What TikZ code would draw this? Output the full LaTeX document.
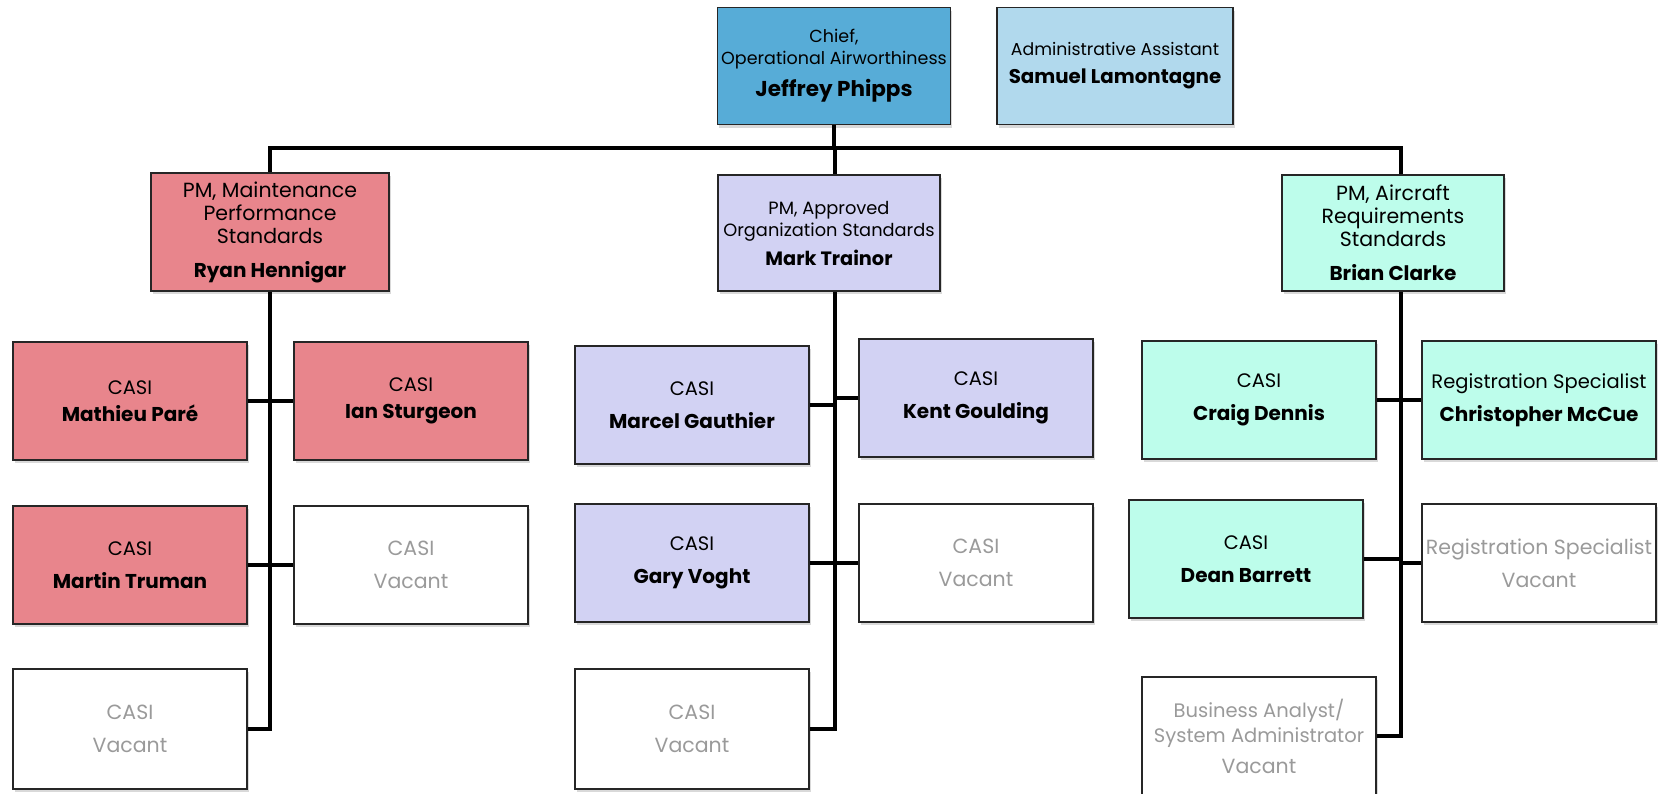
\documentclass[tikz,border=0pt]{standalone}
\usepackage{fontspec}
\setmainfont{Poppins}
\usetikzlibrary{shadows}
\definecolor{chiefblue}{HTML}{57ACD7}
\definecolor{adminblue}{HTML}{B1D9ED}
\definecolor{maintred}{HTML}{E8858C}
\definecolor{orglilac}{HTML}{D2D2F3}
\definecolor{acmint}{HTML}{BDFDEB}
\definecolor{vacgrey}{HTML}{9A9A9A}
\newcommand{\rl}{\fontsize{19.5}{23}\selectfont}
\newcommand{\nm}{\fontsize{20}{23}\selectfont\bfseries}
\tikzstyle{post}=[rectangle,draw=black!85,line width=1.8pt,minimum width=234pt,minimum height=118pt,inner sep=0pt,align=center,font=\rl,drop shadow={opacity=0.3,shadow xshift=1.5pt,shadow yshift=-3pt}]
\tikzstyle{maint}=[post,fill=maintred]
\tikzstyle{orgn}=[post,fill=orglilac]
\tikzstyle{acft}=[post,fill=acmint]
\tikzstyle{vacant}=[post,fill=white,text=vacgrey,font=\fontsize{20.5}{23}\selectfont]
\tikzstyle{link}=[draw,line width=4.5pt]

\begin{document}
\begin{tikzpicture}[x=1pt,y=-1pt]
\useasboundingbox (0,0) rectangle (1660,793);

%layer 0
\node[post,fill=chiefblue,minimum width=233pt,minimum height=117pt,font=\fontsize{17.5}{22}\selectfont] (chief) at (834,66) {Chief,\\Operational Airworthiness\\[10pt]\bfseries\fontsize{21.5}{22}\selectfont Jeffrey Phipps};
\node[post,fill=adminblue,minimum width=236pt,minimum height=117pt,font=\fontsize{17.3}{22}\selectfont] (admin) at (1115,66) {Administrative Assistant\\[6pt]\bfseries\fontsize{19.8}{22}\selectfont Samuel Lamontagne};

%layer 1
\node[maint,minimum width=238pt,font=\fontsize{20.5}{23}\selectfont] (ryan) at (270,232) {PM, Maintenance\\Performance\\Standards\\[11pt]\nm Ryan Hennigar};
\node[orgn,minimum width=222pt,minimum height=116pt,font=\fontsize{17.8}{22}\selectfont] (mark) at (829,233) {PM, Approved\\Organization Standards\\[7pt]\bfseries\fontsize{19.3}{22}\selectfont Mark Trainor};
\node[acft,minimum width=222pt,minimum height=116pt,font=\fontsize{20.5}{23}\selectfont] (brian) at (1393,233) {PM, Aircraft\\Requirements\\Standards\\[11pt]\nm Brian Clarke};

%layer 2 left
\def\gap{10pt}
\foreach \pos/\name/\sty/\txt in {{(130,401)/mathieu/maint/{CASI\\[4pt]\nm Mathieu Paré}}, {(411,401)/ian/maint/{CASI\\[4pt]\nm Ian Sturgeon}}, {(130,565)/martin/maint/{CASI\\[\gap]\nm Martin Truman}}, {(411,565)/vacL/vacant/{CASI\\[\gap]Vacant}}}
    \node[\sty] (\name) at \pos {\txt};
\node[vacant,minimum height=120pt] (vacBL) at (130,729) {CASI\\[\gap]Vacant};

%layer 2 middle
\foreach \pos/\name/\sty/\txt in {{(692,405)/marcel/orgn/{CASI\\[\gap]\nm Marcel Gauthier}}, {(976,398)/kent/orgn/{CASI\\[\gap]\nm Kent Goulding}}, {(692,563)/gary/orgn/{CASI\\[\gap]\nm Gary Voght}}, {(976,563)/vacM/vacant/{CASI\\[\gap]Vacant}}}
    \node[\sty] (\name) at \pos {\txt};
\node[vacant,minimum height=120pt] (vacBM) at (692,729) {CASI\\[\gap]Vacant};

%layer 2 right
\foreach \pos/\name/\sty/\txt in {{(1259,400)/craig/acft/{CASI\\[\gap]\nm Craig Dennis}}, {(1539,400)/chris/acft/{Registration Specialist\\[\gap]\nm Christopher McCue}}, {(1246,559)/dean/acft/{CASI\\[\gap]\nm Dean Barrett}}, {(1539,563)/regvac/vacant/{Registration Specialist\\[\gap]Vacant}}}
    \node[\sty] (\name) at \pos {\txt};
\node[vacant,font=\fontsize{19.5}{25}\selectfont] (busi) at (1259,736) {Business Analyst/\\System Administrator\\[6pt]\fontsize{20.5}{25}\selectfont Vacant};

% Connect the posts
\coordinate (barL) at (270,148);
\coordinate (barM) at (835,148);
\coordinate (barR) at (1401,148);
\draw[link] (ryan.north) -- (barL) -- (barR) -- (barR |- brian.north);
\draw[link] (chief.south) -- (chief.south |- barM);
\draw[link] (barM) -- (barM |- mark.north);

%left
\draw[link] (ryan.south) |- (vacBL.east);
\foreach \source/\dest in {mathieu/ian, martin/vacL}
    \draw[link] (\source.east) -- (\dest.west);

%middle
\draw[link] (barM |- mark.south) |- (vacBM.east);
\draw[link] (marcel.east) -- (marcel.east -| barM);
\draw[link] (kent.west) -- (kent.west -| barM);
\draw[link] (gary.east) -- (vacM.west);

%right
\draw[link] (barR |- brian.south) |- (busi.east);
\draw[link] (craig.east) -- (chris.west);
\draw[link] (dean.east) -- (dean.east -| barR);
\draw[link] (regvac.west) -- (regvac.west -| barR);

\end{tikzpicture}
\end{document}
